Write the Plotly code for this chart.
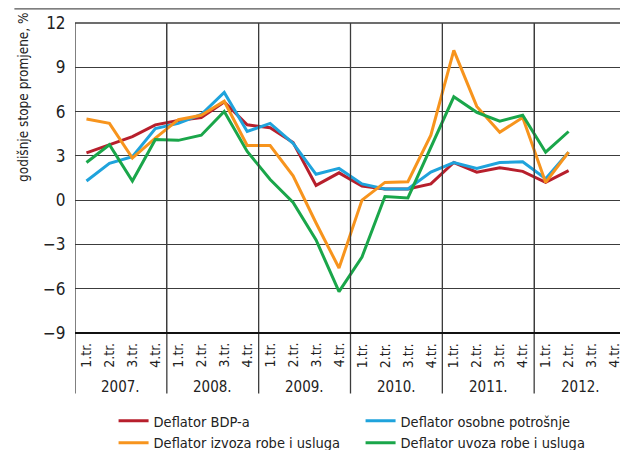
import plotly.graph_objects as go

quarters = ["1.tr.", "2.tr.", "3.tr.", "4.tr."]
years = ["2007.", "2008.", "2009.", "2010.", "2011.", "2012."]

series_names = ["Deflator BDP-a", "Deflator osobne potrošnje",
                "Deflator izvoza robe i usluga", "Deflator uvoza robe i usluga"]
deflator_bdp = [3.2, 3.75, 4.3, 5.1, 5.4, 5.6, 6.65, 5.1, 4.9, 3.9, 1.0, 1.85,
                0.95, 0.75, 0.75, 1.1, 2.55, 1.9, 2.2, 1.95, 1.2, 2.0]
deflator_osobne = [1.3, 2.5, 2.95, 4.85, 5.2, 5.8, 7.3, 4.65, 5.2, 3.85, 1.75, 2.15,
                   1.1, 0.75, 0.75, 1.9, 2.55, 2.15, 2.55, 2.6, 1.45, 3.25]
deflator_izvoza = [5.5, 5.2, 2.85, 4.2, 5.45, 5.75, 6.7, 3.7, 3.7, 1.65, -1.55, -4.6,
                   0.0, 1.2, 1.25, 4.4, 10.15, 6.35, 4.6, 5.6, 1.2, 3.25]
deflator_uvoza = [2.55, 3.75, 1.3, 4.1, 4.05, 4.4, 6.0, 3.3, 1.4, -0.15, -2.7, -6.2,
                  -3.85, 0.25, 0.15, 3.6, 7.0, 5.95, 5.35, 5.75, 3.25, 4.65]

y_ticks = [-9, -6, -3, 0, 3, 6, 9, 12]
y_ticktext = [("−" + str(-v)) if v < 0 else str(v) for v in y_ticks]

colors = ["#b71f2c", "#1fa3dc", "#f7941d", "#1aa64a"]
all_series = [deflator_bdp, deflator_osobne, deflator_izvoza, deflator_uvoza]

FONT = "Liberation Sans Narrow, Arial Narrow, DejaVu Sans Condensed, sans-serif"
GRID = "#3c3c3c"

fig = go.Figure()
for name, vals, c in zip(series_names, all_series, colors):
    fig.add_trace(go.Scatter(x=list(range(len(vals))), y=vals, mode="lines",
                             name=name, line=dict(color=c, width=3)))

n_q = len(years) * len(quarters)
sep_x = [i * len(quarters) - 0.5 for i in range(len(years) + 1)]

# page has an 8px body margin, so the figure is 620x442 offset by 8px
fig.update_layout(
    width=620, height=442,
    margin=dict(l=67, r=2, t=15, b=117, autoexpand=False),
    paper_bgcolor="white", plot_bgcolor="white",
    font=dict(family=FONT, size=15, color="#222"),
    showlegend=True,
    legend=dict(orientation="h", x=0.07, y=-0.232, xanchor="left", yanchor="top",
                entrywidth=202, entrywidthmode="pixels",
                font=dict(family=FONT, size=14.5, color="#222"),
                itemwidth=30, tracegroupgap=0, bgcolor="rgba(0,0,0,0)"),
    xaxis=dict(range=[-0.5, n_q - 0.5], tickvals=sep_x, showticklabels=False,
               showgrid=True, gridcolor=GRID, gridwidth=1.3, zeroline=False,
               showline=False, fixedrange=True),
    yaxis=dict(range=[-9, 12], tickvals=y_ticks, ticktext=y_ticktext,
               showgrid=True, gridcolor=GRID, gridwidth=1.3, zeroline=False,
               showline=False, ticks="outside", ticklen=5,
               tickcolor="rgba(0,0,0,0)",
               tickfont=dict(family=FONT, size=17, color="#222")),
)

# frame and year separators
for xv in sep_x:
    fig.add_shape(type="line", xref="x", yref="paper", x0=xv, x1=xv, y0=-0.195, y1=1,
                  line=dict(color=GRID, width=1.3))
fig.add_shape(type="line", xref="paper", yref="paper", x0=0, x1=1, y0=1, y1=1,
              line=dict(color=GRID, width=1.3))
fig.add_shape(type="line", xref="paper", yref="paper", x0=0, x1=1, y0=0, y1=0,
              line=dict(color="#111", width=2.2))
# top rule
fig.add_shape(type="line", xref="paper", yref="paper", x0=-0.110, x1=1.003,
              y0=1.0455, y1=1.0455, line=dict(color="#555", width=1.3))

# quarter and year labels
for yi, yr in enumerate(years):
    for qi, q in enumerate(quarters):
        fig.add_annotation(x=yi * len(quarters) + qi, y=-0.072, xref="x", yref="paper",
                           text=q, textangle=-90, showarrow=False,
                           xanchor="center", yanchor="middle",
                           font=dict(family=FONT, size=14, color="#222"))
    fig.add_annotation(x=yi * len(quarters) + 1.5, y=-0.174, xref="x", yref="paper",
                       text=yr, showarrow=False, xanchor="center", yanchor="middle",
                       font=dict(family=FONT, size=15, color="#222"))

fig.add_annotation(x=-0.0935, y=0.76, xref="paper", yref="paper",
                   text="godišnje stope promjene, %", textangle=-90, showarrow=False,
                   xanchor="center", yanchor="middle",
                   font=dict(family=FONT, size=13.5, color="#222"))

fig.write_html("out.html")
